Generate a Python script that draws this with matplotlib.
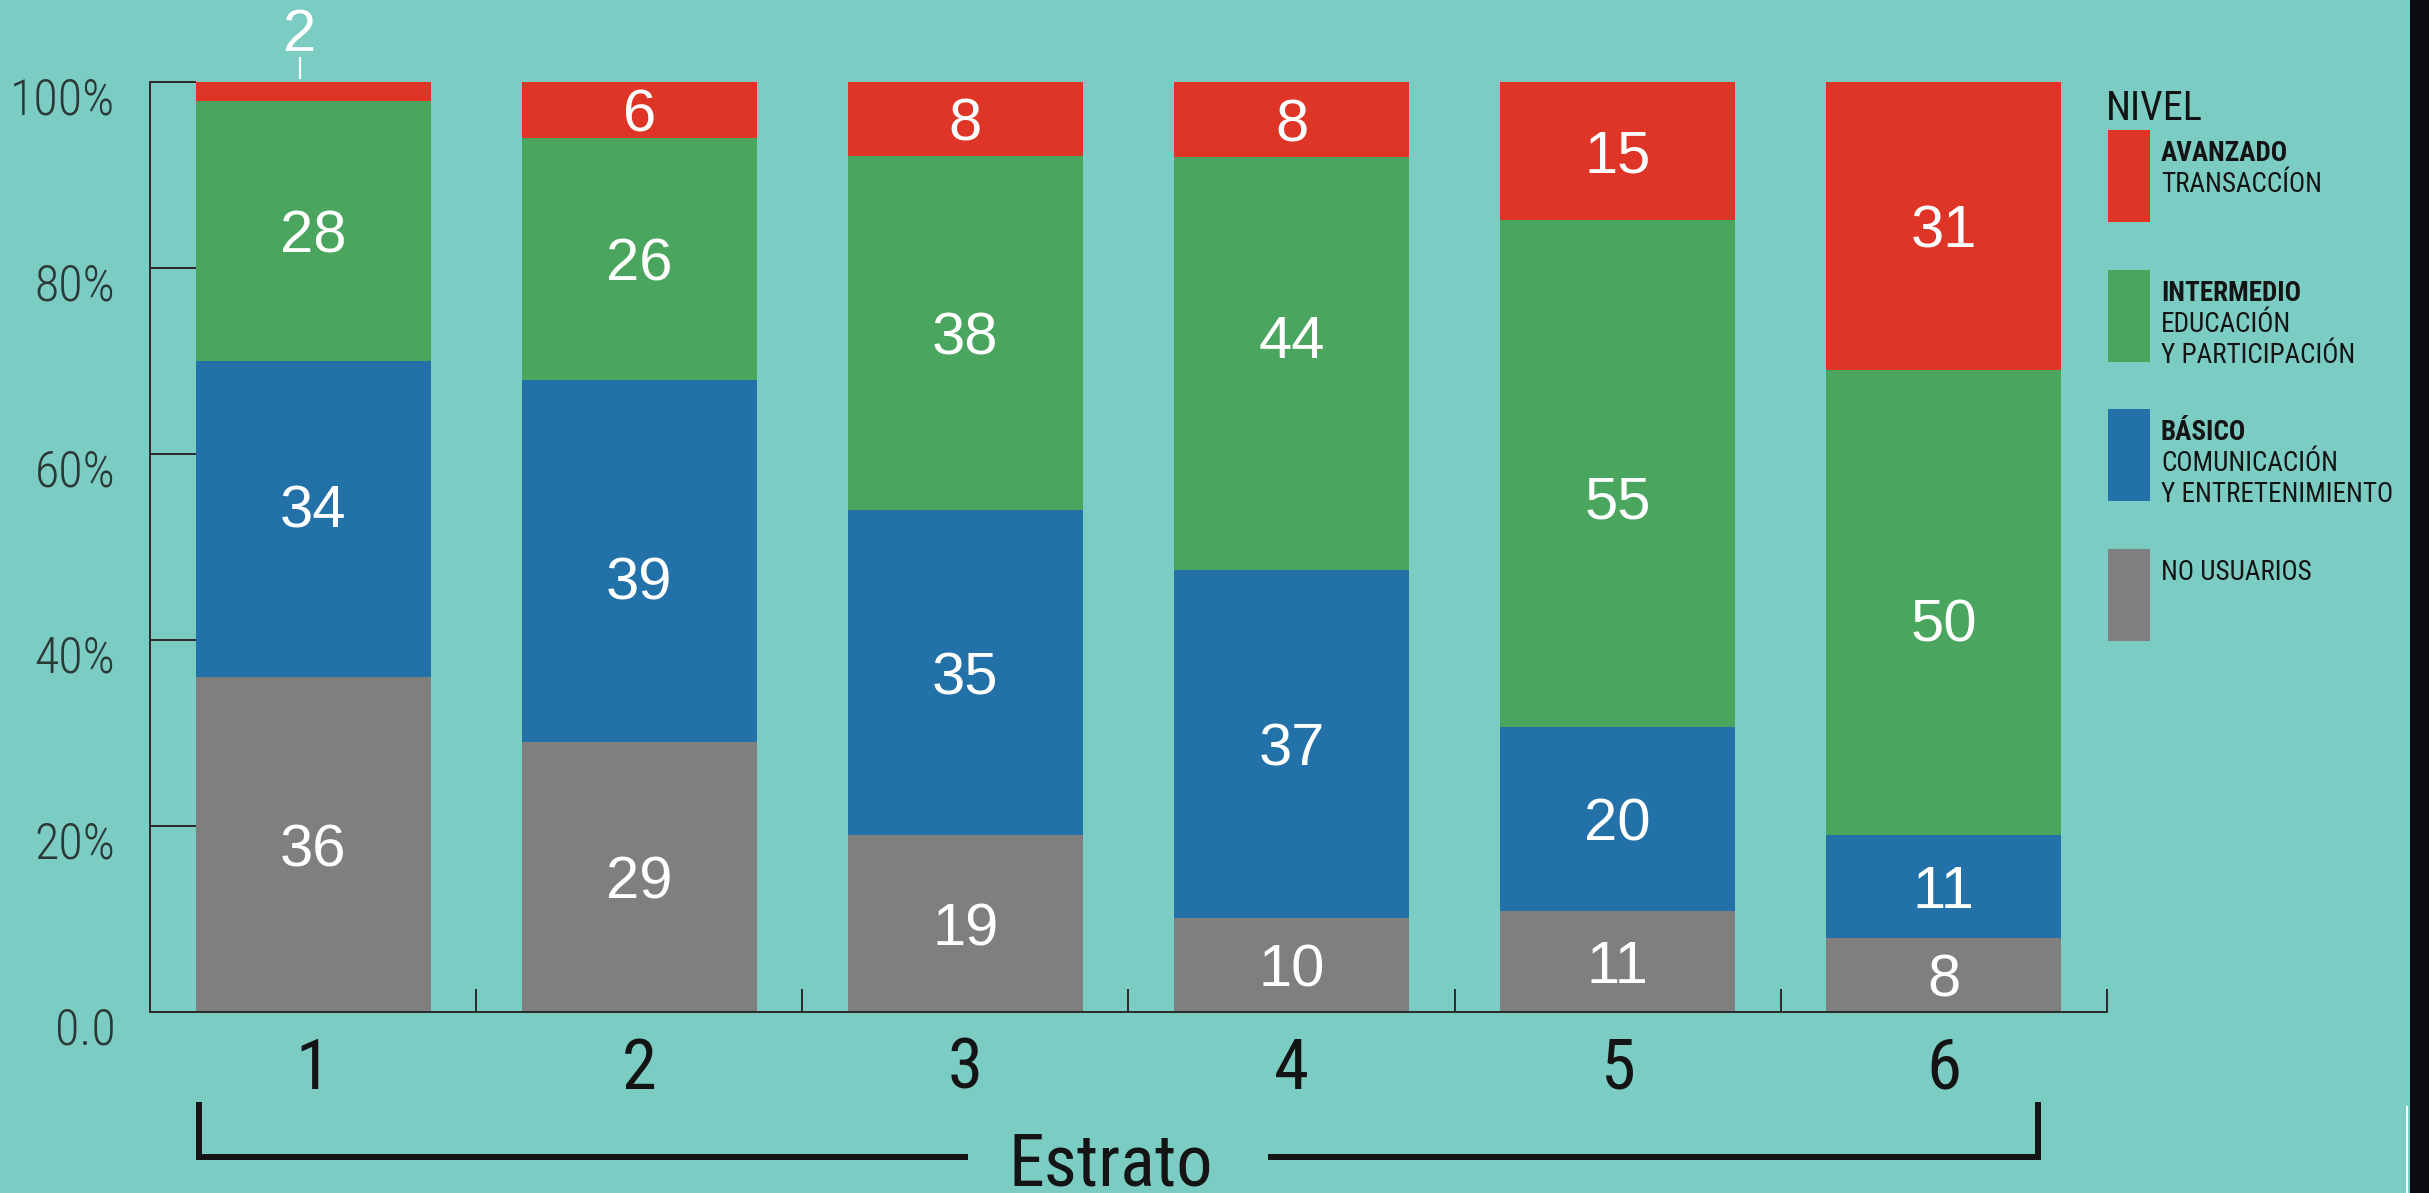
# Estrato vs nivel de uso - 100% stacked bars
import numpy as np
import matplotlib.pyplot as plt
from matplotlib.patches import Rectangle
from matplotlib.lines import Line2D
from matplotlib.transforms import ScaledTranslation

# data
estratos = ["1", "2", "3", "4", "5", "6"]
no_usuarios = [36, 29, 19, 10, 11, 8]
basico = [34, 39, 35, 37, 20, 11]
intermedio = [28, 26, 38, 44, 55, 50]
avanzado = [2, 6, 8, 8, 15, 31]
y_ticks = [0, 20, 40, 60, 80, 100]
y_tick_labels = ["0.0", "20%", "40%", "60%", "80%", "100%"]

legend_titles = ["AVANZADO", "INTERMEDIO", "BÁSICO", ""]
legend_subs = ["TRANSACCÍON", "EDUCACIÓN\nY PARTICIPACIÓN",
               "COMUNICACIÓN\nY ENTRETENIMIENTO", "NO USUARIOS"]

# hand placed labels in the original (series index, bar index) -> shift in points of %
label_nudge = {(1, 0): 1.4, (1, 1): -1.8, (2, 3): 2.9, (2, 4): -2.5, (2, 5): -1.8}

# style
bg = "#7BCDC4"
c_red = "#DF3526"
c_green = "#4AA65E"
c_blue = "#2271A8"
c_gray = "#7F7F7F"
dark = "#141414"
cond = ["Roboto Condensed", "DejaVu Sans"]

W, H = 2429, 1193
fig = plt.figure(figsize=(W / 100, H / 100), dpi=100, facecolor=bg)
ax = fig.add_axes([150 / W, 1 - 1012 / H, (2107 - 150) / W, (1012 - 82) / H])
ax.set_facecolor(bg)

series = [no_usuarios, basico, intermedio, avanzado]
colors = [c_gray, c_blue, c_green, c_red]
totals = np.sum(np.array(series, dtype=float), axis=0)

x = np.arange(len(estratos))
bottom = np.zeros(len(estratos))
for si, (vals, color) in enumerate(zip(series, colors)):
    share = np.array(vals) / totals * 100
    ax.bar(x, share, 0.72, bottom=bottom, color=color, linewidth=0, zorder=2)
    for xi, b, s, v in zip(x, bottom, share, vals):
        if s < 4:
            # small segment: label above the bar with a short leader
            ax.text(xi - 0.04, 105.6, str(v), ha="center", va="center_baseline",
                    color="white", fontsize=43, family="Liberation Sans",
                    clip_on=False)
            ax.plot([xi - 0.04, xi - 0.04], [100.4, 102.6], color="white",
                    lw=1.6, clip_on=False)
        else:
            yl = b + s / 2 + label_nudge.get((si, xi), 0)
            ax.text(xi, yl, str(v), ha="center", va="center_baseline",
                    color="white", fontsize=43, family="Liberation Sans",
                    zorder=3)
    bottom += share

ax.set_xlim(-0.5, 5.5)
ax.set_ylim(0, 100)
for side in ["top", "right"]:
    ax.spines[side].set_visible(False)
for side in ["left", "bottom"]:
    ax.spines[side].set_color("#2a2a2a")
    ax.spines[side].set_linewidth(1.4)

ax.set_xticks(x)
ax.set_xticklabels(estratos, fontsize=51, family=cond, color=dark)
ax.set_xticks(x + 0.5, minor=True)
ax.tick_params(axis="x", which="major", length=0, pad=17)
ax.tick_params(axis="x", which="minor", direction="in", length=16.5,
               width=1.4, color="#2a2a2a")

ax.set_yticks(y_ticks)
ax.set_yticklabels(y_tick_labels, fontsize=36, family=cond,
                   fontweight="light", color="#2c3836")
ax.tick_params(axis="y", direction="in", length=33, width=1.4,
               color="#2a2a2a", pad=25)
shift = ScaledTranslation(0, -0.14, fig.dpi_scale_trans)
for lab in ax.get_yticklabels():
    lab.set_transform(lab.get_transform() + shift)

# bracket with "Estrato"
lw_br = 4.3
def fx(px):
    return px / W
def fy(py):
    return 1 - py / H
fig.add_artist(Line2D([fx(199), fx(199), fx(965)], [fy(1105), fy(1157), fy(1157)],
                      color=dark, lw=lw_br, solid_joinstyle="miter"))
fig.add_artist(Line2D([fx(1271), fx(2038), fx(2038)], [fy(1157), fy(1157), fy(1105)],
                      color=dark, lw=lw_br, solid_joinstyle="miter"))
fig.text(fx(1111), fy(1185), "Estrato", ha="center", va="baseline",
         fontsize=52, family=cond, color=dark)

# legend
fig.text(fx(2106), fy(120), "NIVEL", ha="left", va="baseline",
         fontsize=29, family=cond, color=dark)
for i, (title, sub, color) in enumerate(zip(legend_titles, legend_subs,
                                             colors[::-1])):
    top = 130 + i * 139.7
    fig.add_artist(Rectangle((fx(2108), fy(top + 92)), fx(42), 92 / H,
                             color=color, lw=0))
    line = top + 31
    if title:
        fig.text(fx(2161), fy(line), title, ha="left", va="baseline",
                 fontsize=19.5, fontweight="bold", family=cond, color=dark)
        line += 31
    for s in sub.split("\n"):
        fig.text(fx(2161), fy(line), s, ha="left", va="baseline",
                 fontsize=19.5, family=cond, color=dark)
        line += 31

# dark strip on the right edge of the screenshot
fig.add_artist(Rectangle((fx(2410), 0), fx(19), 1, color="#0b0d12", lw=0))
fig.add_artist(Line2D([fx(2407), fx(2407)], [0, fy(1107)], color="white", lw=1.5))

fig.savefig("out.png", dpi=100, facecolor=bg)
